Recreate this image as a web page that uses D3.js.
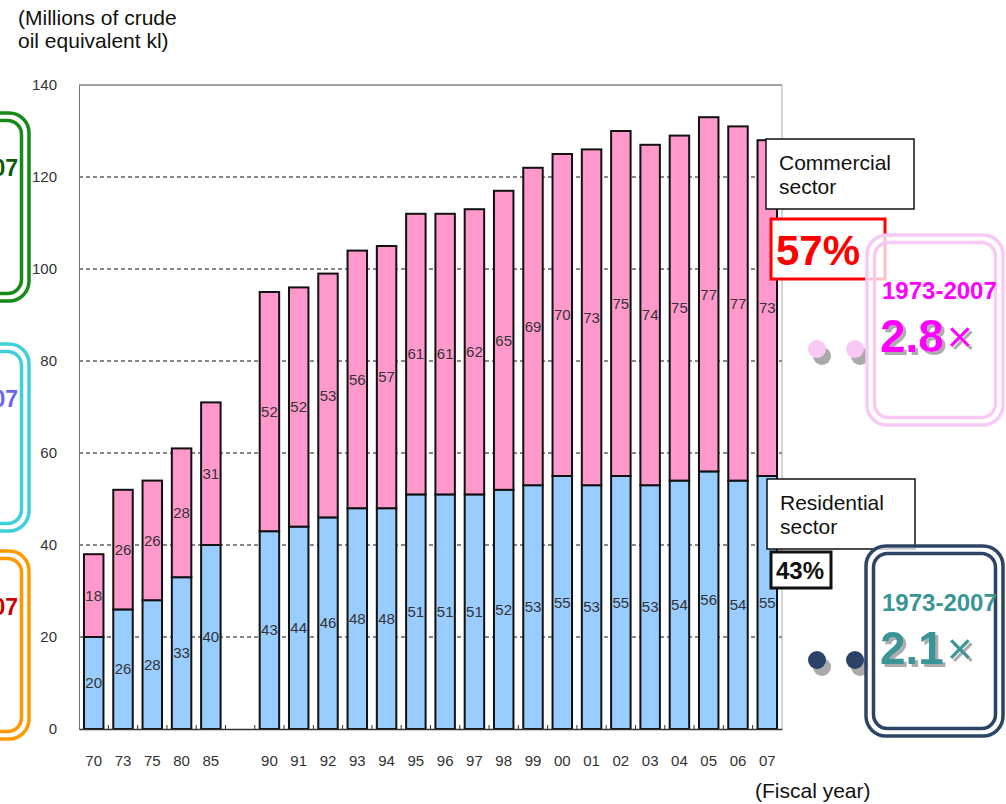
<!DOCTYPE html>
<html>
<head>
<meta charset="utf-8">
<script src="https://cdn.jsdelivr.net/npm/d3@7"></script>
<style>
  html, body { margin: 0; padding: 0; background: #fff; }
  svg { display: block; font-family: "Liberation Sans", Arial, sans-serif; }
</style>
</head>
<body>
<svg id="chart" width="1006" height="804"></svg>
<script>
// Fiscal years shown on the category axis
const years = ["70","73","75","80","85","90","91","92","93","94","95","96","97","98","99","00","01","02","03","04","05","06","07"];
// Residential sector energy consumption (millions of kl crude oil equivalent)
const residential = [20,26,28,33,40,43,44,46,48,48,51,51,51,52,53,55,53,55,53,54,56,54,55];
// Commercial sector energy consumption (millions of kl crude oil equivalent)
const commercial  = [18,26,26,28,31,52,52,53,56,57,61,61,62,65,69,70,73,75,74,75,77,77,73];
// Value axis ticks
const yTicks = [0,20,40,60,80,100,120,140];

const svg = d3.select("#chart");
const plot = { left: 79, right: 782, top: 85, bottom: 729 };

// Soft drop shadow used for the large ratio figures
const defs = svg.append("defs");
defs.append("filter").attr("id", "shadow").attr("x", "-10%").attr("y", "-10%")
  .attr("width", "130%").attr("height", "140%")
  .append("feDropShadow").attr("dx", 3).attr("dy", 3).attr("stdDeviation", 0.6)
  .attr("flood-color", "#999").attr("flood-opacity", 0.8);

// Category domain with an empty slot between 85 and 90
const domain = [...years.slice(0, 5), "gap", ...years.slice(5)];
const x = d3.scaleBand().domain(domain)
  .range([plot.left, plot.right]).paddingInner(0.335).paddingOuter(0.17);
const y = d3.scaleLinear().domain([0, 140]).range([plot.bottom, plot.top]);

const rows = years.map((yr, i) => ({ yr, res: residential[i], com: commercial[i] }));

// Dashed gridlines
svg.append("g").selectAll("line")
  .data(yTicks.filter(t => t > 0 && t < 140))
  .join("line")
  .attr("x1", plot.left).attr("x2", plot.right)
  .attr("y1", d => y(d)).attr("y2", d => y(d))
  .attr("stroke", "#111").attr("stroke-width", 1).attr("stroke-dasharray", "4,3");

// Plot frame: top and right borders
svg.append("line").attr("x1", plot.left).attr("x2", plot.right)
  .attr("y1", plot.top).attr("y2", plot.top).attr("stroke", "#444").attr("stroke-width", 1);
svg.append("line").attr("x1", plot.right).attr("x2", plot.right)
  .attr("y1", plot.top).attr("y2", plot.bottom).attr("stroke", "#aaa").attr("stroke-width", 1);

// Y axis
const yAxis = svg.append("g").attr("transform", `translate(${plot.left},0)`)
  .call(d3.axisLeft(y).tickValues(yTicks).tickSize(0).tickPadding(22));
yAxis.select(".domain").attr("stroke", "#777");
yAxis.selectAll("text").attr("font-size", 15).attr("fill", "#333")
  .attr("font-family", '"Liberation Sans", Arial, sans-serif');

// Bars: residential (bottom) and commercial (top)
const barG = svg.append("g");
barG.selectAll("rect.res").data(rows).join("rect").attr("class", "res")
  .attr("x", d => x(d.yr)).attr("width", x.bandwidth())
  .attr("y", d => y(d.res)).attr("height", d => y(0) - y(d.res))
  .attr("fill", "#99CCFF").attr("stroke", "#111").attr("stroke-width", 2);
barG.selectAll("rect.com").data(rows).join("rect").attr("class", "com")
  .attr("x", d => x(d.yr)).attr("width", x.bandwidth())
  .attr("y", d => y(d.res + d.com)).attr("height", d => y(d.res) - y(d.res + d.com))
  .attr("fill", "#FF99CC").attr("stroke", "#111").attr("stroke-width", 2);

// Value labels inside segments
const lblG = svg.append("g").attr("font-size", 15).attr("fill", "#333").attr("text-anchor", "middle");
lblG.selectAll("text.res").data(rows).join("text")
  .attr("x", d => x(d.yr) + x.bandwidth() / 2)
  .attr("y", d => y(d.res / 2)).attr("dy", "0.35em").text(d => d.res);
lblG.selectAll("text.com").data(rows).join("text")
  .attr("x", d => x(d.yr) + x.bandwidth() / 2)
  .attr("y", d => y(d.res + d.com / 2)).attr("dy", "0.35em").text(d => d.com);

// X axis with small tick marks between categories
const xAxis = svg.append("g").attr("transform", `translate(0,${plot.bottom})`)
  .call(d3.axisBottom(x).tickSize(0).tickPadding(26).tickFormat(d => d === "gap" ? "" : d));
xAxis.select(".domain").attr("stroke", "#333").attr("stroke-width", 1.5);
xAxis.selectAll("text").attr("font-size", 15).attr("fill", "#333")
  .attr("font-family", '"Liberation Sans", Arial, sans-serif');
const step = x.step();
const bounds = domain.map(d => x(d) - (step - x.bandwidth()) / 2).slice(1);
svg.append("g").selectAll("line").data(bounds).join("line")
  .attr("x1", d => d).attr("x2", d => d)
  .attr("y1", plot.bottom).attr("y2", plot.bottom - 4)
  .attr("stroke", "#333").attr("stroke-width", 1);

// Unit caption
const unit = svg.append("text").attr("font-size", 21).attr("fill", "#111");
unit.append("tspan").attr("x", 18).attr("y", 25).text("(Millions of crude");
unit.append("tspan").attr("x", 18).attr("y", 48).text("oil equivalent kl)");
svg.append("text").attr("x", 755).attr("y", 798).attr("font-size", 21).attr("fill", "#111")
  .text("(Fiscal year)");

// Framed double-border boxes
function doubleBox(x0, y0, x1, y1, color) {
  svg.append("rect").attr("x", x0).attr("y", y0).attr("width", x1 - x0).attr("height", y1 - y0)
    .attr("rx", 20).attr("fill", "#fff").attr("fill-opacity", 0.75)
    .attr("stroke", color).attr("stroke-width", 3.5);
  svg.append("rect").attr("x", x0 + 7.5).attr("y", y0 + 7.5).attr("width", x1 - x0 - 15).attr("height", y1 - y0 - 15)
    .attr("rx", 14).attr("fill", "none").attr("stroke", color).attr("stroke-width", 3.5);
}

// Boxes at the left edge (running past the page)
doubleBox(-120, 113, 29, 301, "#178A17");
svg.append("text").attr("x", 18).attr("y", 176).attr("text-anchor", "end")
  .attr("font-size", 23).attr("font-weight", "bold").attr("fill", "#0A5A0A").text("07");
doubleBox(-120, 344, 29, 531, "#3FD0D8");
svg.append("text").attr("x", 18).attr("y", 407).attr("text-anchor", "end")
  .attr("font-size", 23).attr("font-weight", "bold").attr("fill", "#6666EE").text("07");
doubleBox(-120, 551, 29, 739, "#FF9900");
svg.append("text").attr("x", 18).attr("y", 615).attr("text-anchor", "end")
  .attr("font-size", 23).attr("font-weight", "bold").attr("fill", "#CC0000").text("07");

// Sector name boxes
function nameBox(x0, y0, lines) {
  svg.append("rect").attr("x", x0).attr("y", y0).attr("width", 148).attr("height", 70)
    .attr("fill", "#fff").attr("stroke", "#111").attr("stroke-width", 1.5);
  const t = svg.append("text").attr("font-size", 21).attr("fill", "#111");
  lines.forEach((s, i) => t.append("tspan").attr("x", x0 + 13).attr("y", y0 + 31 + i * 24).text(s));
}
nameBox(766, 139, ["Commercial", "sector"]);
nameBox(767, 479, ["Residential", "sector"]);

// Share boxes
svg.append("rect").attr("x", 771).attr("y", 219).attr("width", 114).attr("height", 60)
  .attr("fill", "#fff").attr("stroke", "#FF0000").attr("stroke-width", 3);
svg.append("text").attr("x", 776).attr("y", 265).attr("font-size", 42).attr("font-weight", "bold")
  .attr("fill", "#FF0000").text("57%");
svg.append("rect").attr("x", 771).attr("y", 552).attr("width", 60).attr("height", 36)
  .attr("fill", "#fff").attr("stroke", "#111").attr("stroke-width", 3);
svg.append("text").attr("x", 776).attr("y", 579).attr("font-size", 24).attr("font-weight", "bold")
  .attr("fill", "#111").text("43%");

// Growth ratio panels on the right
function dots(cy, color) {
  [817, 855].forEach(cx => {
    svg.append("circle").attr("cx", cx + 5).attr("cy", cy + 7).attr("r", 9).attr("fill", "#aaa");
    svg.append("circle").attr("cx", cx).attr("cy", cy).attr("r", 9).attr("fill", color);
  });
}
function ratioText(yBase, label, color) {
  svg.append("text").attr("x", 882).attr("y", yBase - 53).attr("font-size", 24)
    .attr("font-weight", "bold").attr("fill", color).text("1973-2007");
  const t = svg.append("text").attr("x", 880).attr("y", yBase).attr("fill", color)
    .attr("filter", "url(#shadow)");
  t.append("tspan").attr("font-size", 46).attr("font-weight", "bold").text(label);
  t.append("tspan").attr("font-size", 44).attr("dx", 3).text("×");
}
dots(349, "#F9C8F4");
doubleBox(867, 235, 1003, 425, "#F9C9F6");
ratioText(352, "2.8", "#FF00FF");

dots(660, "#2B4366");
doubleBox(866, 546, 1003, 736, "#2C4566");
ratioText(664, "2.1", "#3A9597");
</script>
</body>
</html>
